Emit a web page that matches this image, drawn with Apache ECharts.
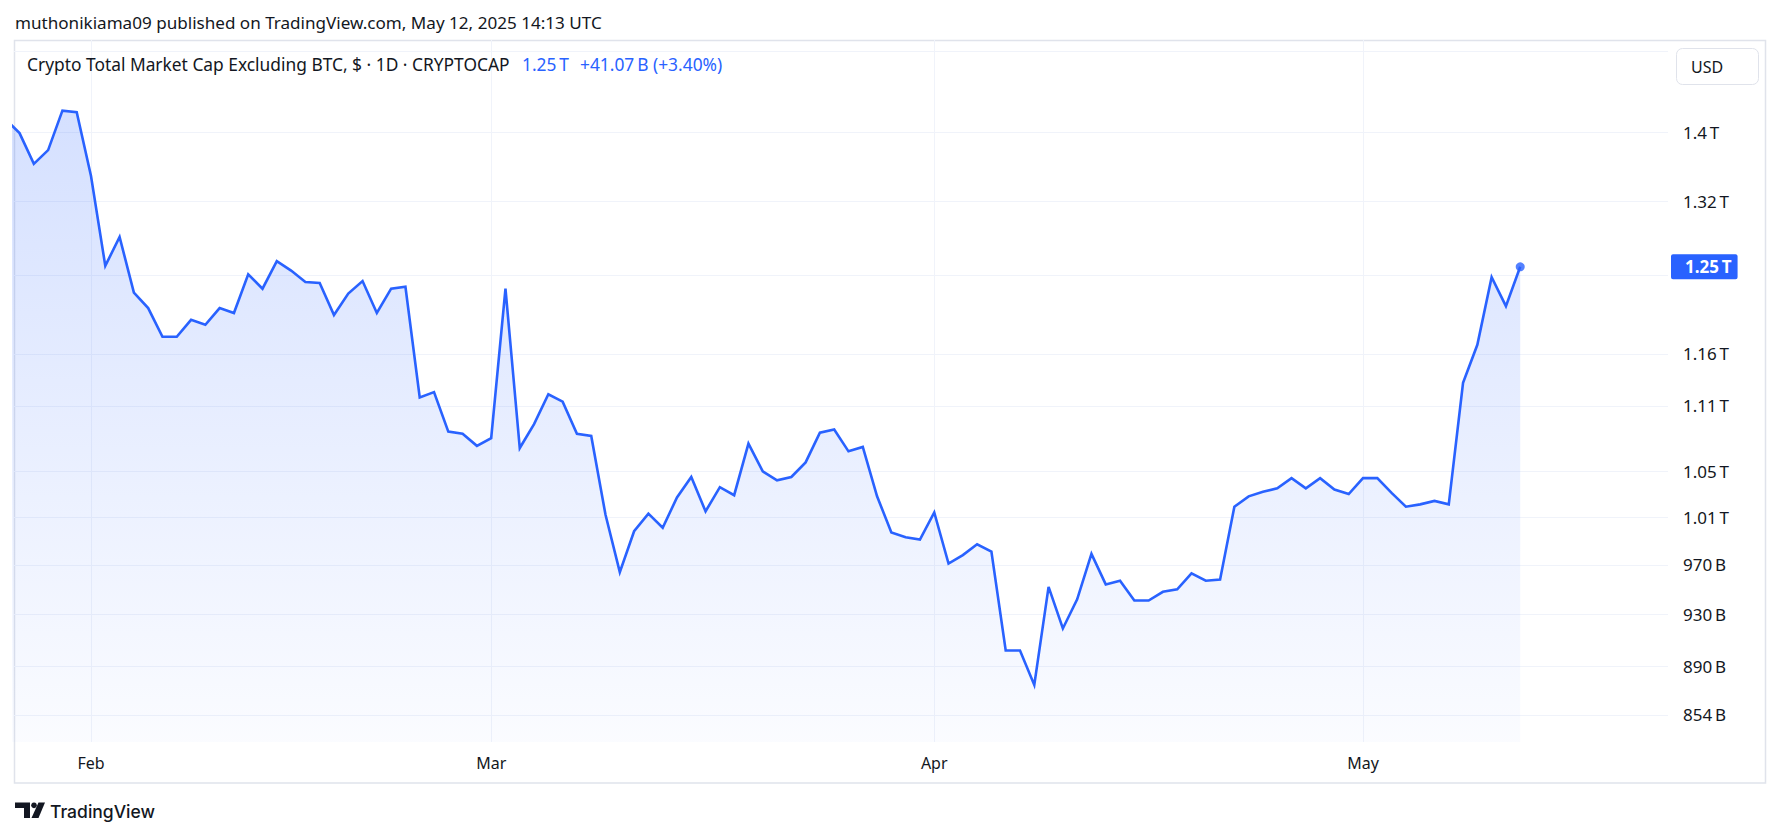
<!DOCTYPE html>
<html>
<head>
<meta charset="utf-8">
<script src="https://cdn.jsdelivr.net/npm/echarts@6/dist/echarts.min.js"></script>
<style>
html,body{margin:0;padding:0;background:#ffffff;}
#chart{width:1781px;height:837px;}
</style>
</head>
<body>
<div id="chart"></div>
<script>
// ---------------- DATA ----------------
const dates = [
 '2025-01-26','2025-01-27','2025-01-28','2025-01-29','2025-01-30','2025-01-31',
 '2025-02-01','2025-02-02','2025-02-03','2025-02-04','2025-02-05','2025-02-06','2025-02-07',
 '2025-02-08','2025-02-09','2025-02-10','2025-02-11','2025-02-12','2025-02-13','2025-02-14',
 '2025-02-15','2025-02-16','2025-02-17','2025-02-18','2025-02-19','2025-02-20','2025-02-21',
 '2025-02-22','2025-02-23','2025-02-24','2025-02-25','2025-02-26','2025-02-27','2025-02-28',
 '2025-03-01','2025-03-02','2025-03-03','2025-03-04','2025-03-05','2025-03-06','2025-03-07',
 '2025-03-08','2025-03-09','2025-03-10','2025-03-11','2025-03-12','2025-03-13','2025-03-14',
 '2025-03-15','2025-03-16','2025-03-17','2025-03-18','2025-03-19','2025-03-20','2025-03-21',
 '2025-03-22','2025-03-23','2025-03-24','2025-03-25','2025-03-26','2025-03-27','2025-03-28',
 '2025-03-29','2025-03-30','2025-03-31',
 '2025-04-01','2025-04-02','2025-04-03','2025-04-04','2025-04-05','2025-04-06','2025-04-07',
 '2025-04-08','2025-04-09','2025-04-10','2025-04-11','2025-04-12','2025-04-13','2025-04-14',
 '2025-04-15','2025-04-16','2025-04-17','2025-04-18','2025-04-19','2025-04-20','2025-04-21',
 '2025-04-22','2025-04-23','2025-04-24','2025-04-25','2025-04-26','2025-04-27','2025-04-28',
 '2025-04-29','2025-04-30',
 '2025-05-01','2025-05-02','2025-05-03','2025-05-04','2025-05-05','2025-05-06','2025-05-07',
 '2025-05-08','2025-05-09','2025-05-10','2025-05-11','2025-05-12'
];
// Market cap excluding BTC, in billions USD
const marketCapB = [
 1416,1399,1363,1379,1426,1424,
 1349,1250,1281,1222,1206,1177,1177,
 1194,1189,1206,1201,1241,1226,1255,
 1245,1233,1232,1199,1221,1234,1201,
 1226,1228,1118,1123,1086,1084,1073,
 1080,1226,1071,1093,1121,1114,1084,
 1082,1012,964,998,1013,1001,1027,
 1045,1015,1036,1029,1075,1050,1042,
 1045,1058,1085,1088,1068,1072,1028,
 997,993,991,
 1014,971,978,987,981,902,902,
 876,952,919,942,979,954,957,
 941,941,948,950,963,957,958,
 1019,1028,1032,1035,1044,1035,1044,
 1034,1030,
 1044,1044,1031,1019,1021,1024,1021,
 1132,1169,1238,1208,1249
];
const monthTicks  = ['2025-02-01','2025-03-01','2025-04-01','2025-05-01'];
const monthLabels = ['Feb','Mar','Apr','May'];
const priceTicks  = [1500, 1400, 1320, 1240, 1160, 1110, 1050, 1010, 970, 930, 890, 854];
const priceLabels = ['', '1.4\u2009T', '1.32\u2009T', '', '1.16\u2009T', '1.11\u2009T', '1.05\u2009T', '1.01\u2009T', '970\u2009B', '930\u2009B', '890\u2009B', '854\u2009B'];
const lastPriceLabel = '1.25\u2009T';
const titleText  = 'muthonikiama09 published on TradingView.com, May 12, 2025 14:13 UTC';
const legendText = 'Crypto Total Market Cap Excluding BTC, $ \u00b7 1D \u00b7 CRYPTOCAP';
const legendLast = '1.25\u2009T';
const legendChange = '+41.07\u2009B (+3.40%)';
const currencyText = 'USD';
const brandText = 'TradingView';

// ---------------- HELPERS ----------------
const toUTC = s => Date.UTC(+s.slice(0,4), +s.slice(5,7) - 1, +s.slice(8,10));
const DAY = 86400000;
const seriesData = dates.map((d, i) => [toUTC(d), marketCapB[i]]);
const lastPoint = seriesData[seriesData.length - 1];

const FONT = '"Noto Sans", "Open Sans", sans-serif';
const mctx = document.createElement('canvas').getContext('2d');
function fitSize(text, family, weight, targetW) {
  mctx.font = weight + ' 100px ' + family;
  return 100 * targetW / mctx.measureText(text).width;
}
const titleSize  = fitSize(titleText, FONT, 'normal', 587);
const legendSize = fitSize(legendText, FONT, 'normal', 483);
const brandSize  = fitSize(brandText, 'Inter, sans-serif', '500', 105);

const TEXT = '#131722';
const BLUE = '#2962ff';
const GRIDC = '#f0f3fa';

// ---------------- CHART ----------------
const chart = echarts.init(document.getElementById('chart'), null, {renderer: 'svg', width: 1781, height: 837});

const gridMarks = [];
priceTicks.forEach((v, i) => {
  gridMarks.push({
    yAxis: v, name: priceLabels[i],
    label: {show: priceLabels[i] !== ''}
  });
});
monthTicks.forEach((m, i) => {
  gridMarks.push({
    xAxis: toUTC(m), name: monthLabels[i],
    label: {position: 'start', distance: 13, align: 'center', fontSize: 16}
  });
});

const option = {
  backgroundColor: '#ffffff',
  animation: false,
  useUTC: true,
  textStyle: {fontFamily: FONT},
  grid: {left: 14, top: 40, width: 1654, height: 702, outerBoundsMode: 'none', containLabel: false},
  xAxis: {
    type: 'time',
    min: toUTC('2025-01-26') + 0.612 * DAY,
    max: toUTC('2025-05-22') + 0.34 * DAY,
    axisLine: {show: false}, axisTick: {show: false},
    axisLabel: {show: false}, splitLine: {show: false}
  },
  yAxis: {
    type: 'log', logBase: 10,
    min: 834.6, max: 1514.0,
    axisLine: {show: false}, axisTick: {show: false},
    axisLabel: {show: false}, splitLine: {show: false}, minorSplitLine: {show: false}
  },
  series: [
    {
      type: 'line',
      name: 'TOTAL2',
      data: seriesData,
      symbol: 'none',
      clip: true,
      z: 3,
      lineStyle: {color: BLUE, width: 2.6, join: 'miter'},
      areaStyle: {
        color: {type: 'linear', x: 0, y: 0, x2: 0, y2: 1,
          colorStops: [{offset: 0, color: 'rgba(41,98,255,0.28)'}, {offset: 1, color: 'rgba(41,98,255,0.03)'}]}
      },
      markLine: {
        silent: true, z: 1, animation: false,
        symbol: ['none', 'none'],
        lineStyle: {color: GRIDC, width: 1, type: 'solid'},
        label: {position: 'end', distance: 15, formatter: '{b}', color: TEXT, fontSize: 17, fontFamily: FONT},
        data: gridMarks
      }
    },
    {
      type: 'scatter',
      data: [lastPoint],
      symbol: 'circle',
      symbolSize: 9,
      z: 4,
      itemStyle: {color: BLUE},
      markLine: {
        silent: true, animation: false, z: 6,
        symbol: ['none', 'none'],
        lineStyle: {color: 'rgba(0,0,0,0)', width: 0},
        label: {
          position: 'end', distance: 3, formatter: lastPriceLabel,
          color: '#ffffff', backgroundColor: BLUE, borderRadius: 2,
          padding: [4, 6, 4, 14], fontSize: 17, fontWeight: 'bold', fontFamily: FONT
        },
        data: [{yAxis: lastPoint[1]}]
      }
    }
  ],
  graphic: [
    // chart frame
    {type: 'rect', z: 0, silent: true, shape: {x: 14.5, y: 40.5, width: 1751, height: 742.5},
     style: {fill: 'none', stroke: '#e0e3eb', lineWidth: 1.5}},
    // publish header
    {type: 'text', silent: true, style: {text: titleText, x: 15, y: 22, textAlign: 'left', textVerticalAlign: 'middle',
      fill: TEXT, fontSize: titleSize, fontFamily: FONT}},
    // legend row
    {type: 'text', silent: true, z: 10, style: {text: legendText, x: 27, y: 64, textAlign: 'left', textVerticalAlign: 'middle',
      fill: TEXT, fontSize: legendSize, fontFamily: FONT}},
    {type: 'text', silent: true, z: 10, style: {text: legendLast, x: 522, y: 64, textAlign: 'left', textVerticalAlign: 'middle',
      fill: BLUE, fontSize: legendSize, fontFamily: FONT}},
    {type: 'text', silent: true, z: 10, style: {text: legendChange, x: 580, y: 64, textAlign: 'left', textVerticalAlign: 'middle',
      fill: BLUE, fontSize: legendSize, fontFamily: FONT}},
    // currency box
    {type: 'rect', silent: true, z: 10, shape: {x: 1676.5, y: 48.5, width: 82, height: 36, r: 6},
     style: {fill: '#ffffff', stroke: '#e0e3eb', lineWidth: 1}},
    {type: 'text', silent: true, z: 11, style: {text: currencyText, x: 1691, y: 66.5, textAlign: 'left', textVerticalAlign: 'middle',
      fill: TEXT, fontSize: 16, fontFamily: FONT}},
    // TradingView logo
    {type: 'polygon', silent: true, shape: {points: [[15,802.5],[30,802.5],[30,818],[24,818],[24,808],[15,808]]}, style: {fill: TEXT}},
    {type: 'circle', silent: true, shape: {cx: 34, cy: 805.3, r: 2.8}, style: {fill: TEXT}},
    {type: 'polygon', silent: true, shape: {points: [[38.5,802.5],[45,802.5],[38.5,818],[31.5,818]]}, style: {fill: TEXT}},
    {type: 'text', silent: true, style: {text: brandText, x: 50, y: 811, textAlign: 'left', textVerticalAlign: 'middle',
      fill: TEXT, fontSize: brandSize, fontFamily: 'Inter, sans-serif', fontWeight: 500}}
  ]
};
chart.setOption(option);
</script>
</body>
</html>
